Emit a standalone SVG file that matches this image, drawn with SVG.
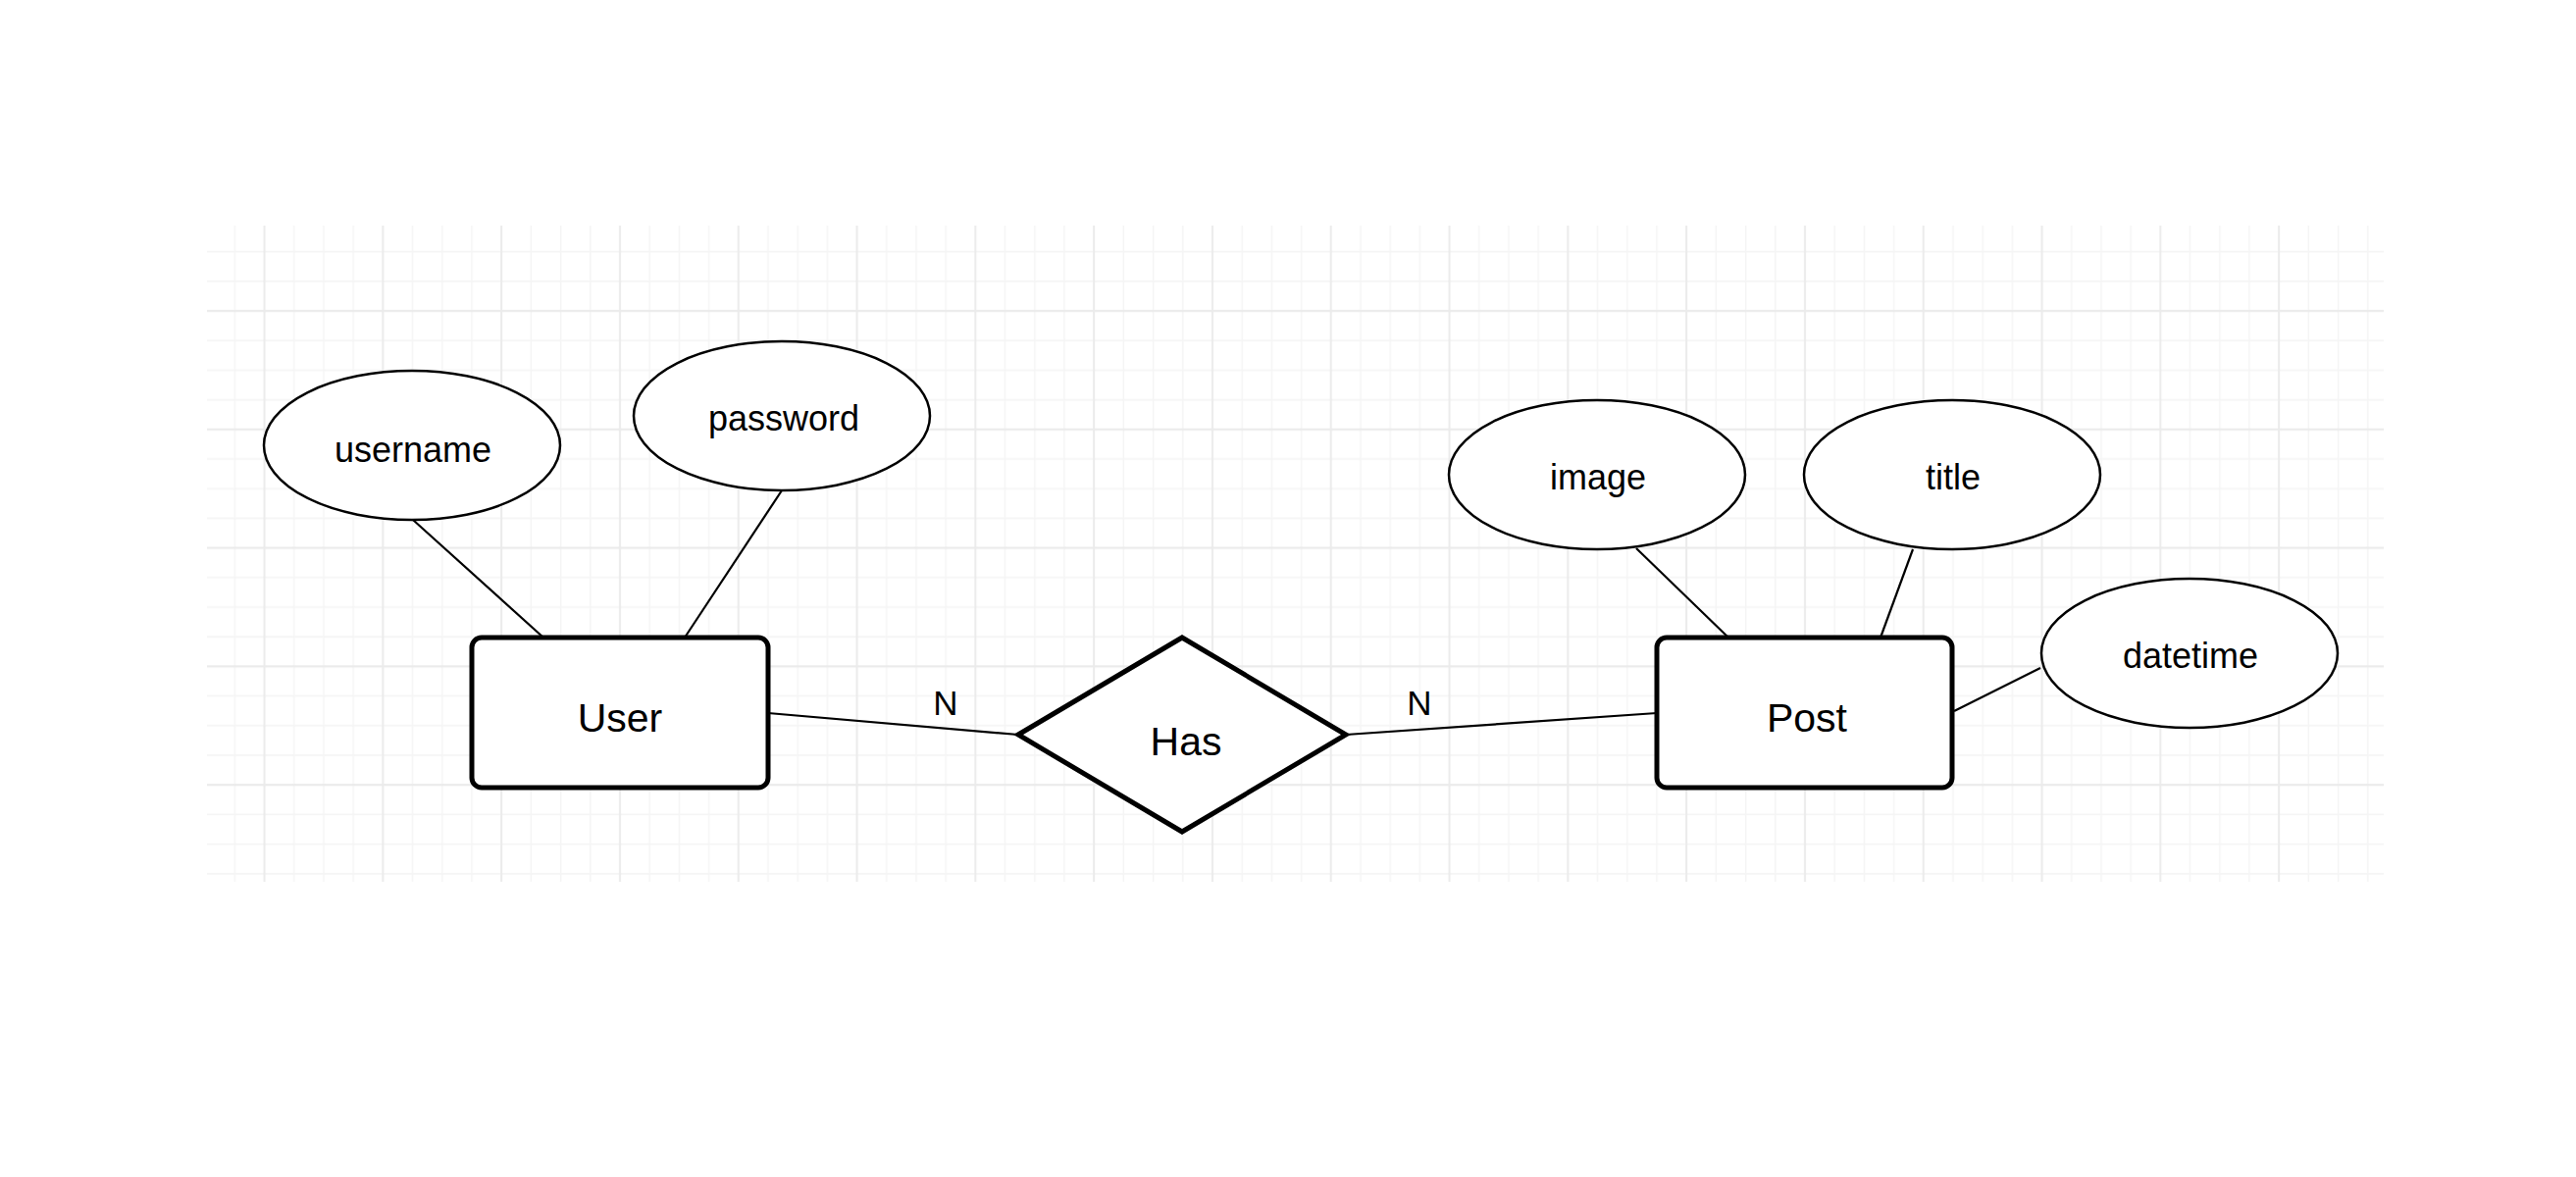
<svg xmlns="http://www.w3.org/2000/svg" width="2626" height="1200" viewBox="0 0 2626 1200">
  <defs>
    <pattern id="grid" x="254.5" y="301.9" width="120.8" height="120.8" patternUnits="userSpaceOnUse">
      <path d="M45.3 0V120.8M75.5 0V120.8M105.7 0V120.8M0 45.3H120.8M0 75.5H120.8M0 105.7H120.8" stroke="#f5f5f5" stroke-width="1.5" fill="none"/>
      <path d="M15.1 0V120.8M0 15.1H120.8" stroke="#ebebeb" stroke-width="2" fill="none"/>
    </pattern>
    <style>
      .attr ellipse { fill: #ffffff; stroke: #000000; stroke-width: 2.5; }
      .ent rect { fill: #ffffff; stroke: #000000; stroke-width: 5; }
      .rel polygon { fill: #ffffff; stroke: #000000; stroke-width: 5; stroke-linejoin: miter; }
      text { font-family: "Liberation Sans", Arial, Helvetica, sans-serif; fill: #000000; text-anchor: middle; }
      .t-attr { font-size: 36px; }
      .t-ent { font-size: 41px; }
      .t-card { font-size: 35px; }
      #connectors line { stroke: #000000; stroke-width: 2.2; fill: none; }
    </style>
  </defs>
  <rect x="0" y="0" width="2626" height="1200" fill="#ffffff"/>
  <rect x="211" y="230" width="2219" height="669" fill="url(#grid)"/>

  <g id="connectors">
    <line x1="421" y1="530" x2="554" y2="650"/>
    <line x1="797" y1="500" x2="698" y2="650"/>
    <line x1="783" y1="727" x2="1038" y2="749"/>
    <line x1="1372" y1="749" x2="1689" y2="727"/>
    <line x1="1668" y1="559" x2="1762" y2="650"/>
    <line x1="1950" y1="560" x2="1917" y2="650"/>
    <line x1="2080" y1="681" x2="1992" y2="725"/>
    <text class="t-card" x="964" y="729">N</text>
    <text class="t-card" x="1447" y="729">N</text>
  </g>

  <g id="attr-username" class="attr">
    <ellipse cx="420" cy="454" rx="151" ry="76"/>
    <text class="t-attr" x="421" y="471">username</text>
  </g>
  <g id="attr-password" class="attr">
    <ellipse cx="797" cy="424" rx="151" ry="76"/>
    <text class="t-attr" x="799" y="439">password</text>
  </g>
  <g id="attr-image" class="attr">
    <ellipse cx="1628" cy="484" rx="151" ry="76"/>
    <text class="t-attr" x="1629" y="499">image</text>
  </g>
  <g id="attr-title" class="attr">
    <ellipse cx="1990" cy="484" rx="151" ry="76"/>
    <text class="t-attr" x="1991" y="499">title</text>
  </g>
  <g id="attr-datetime" class="attr">
    <ellipse cx="2232" cy="666" rx="151" ry="76"/>
    <text class="t-attr" x="2233" y="681">datetime</text>
  </g>

  <g id="entity-user" class="ent">
    <rect x="481" y="650" width="302" height="153" rx="10" ry="10"/>
    <text class="t-ent" x="632" y="746">User</text>
  </g>
  <g id="entity-post" class="ent">
    <rect x="1689" y="650" width="301" height="153" rx="10" ry="10"/>
    <text class="t-ent" x="1842" y="746">Post</text>
  </g>

  <g id="rel-has" class="rel">
    <polygon points="1038,749 1205,650 1372,749 1205,848"/>
    <text class="t-ent" x="1209" y="770">Has</text>
  </g>
</svg>
